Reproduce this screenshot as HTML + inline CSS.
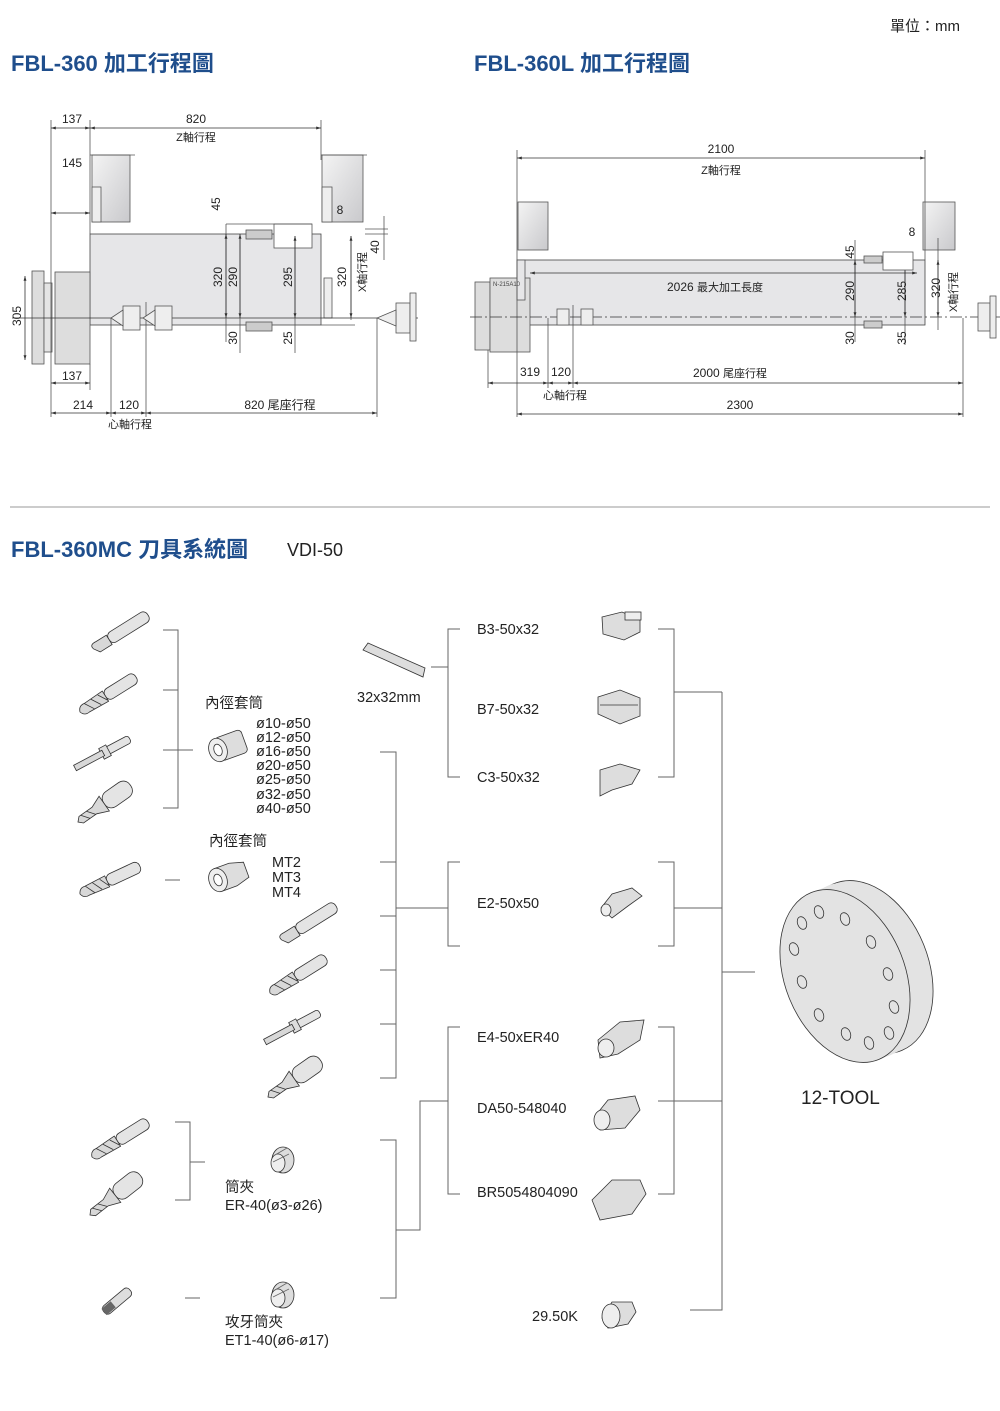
<!DOCTYPE html>
<html><head><meta charset="utf-8"><style>
html,body{margin:0;padding:0;background:#fff;}
svg{display:block;font-family:"Liberation Sans","Noto Sans CJK TC",sans-serif;}
</style></head><body>
<svg width="1000" height="1411" viewBox="0 0 1000 1411" xmlns="http://www.w3.org/2000/svg">
<defs>
<linearGradient id="gb" x1="0" x2="1" y1="0" y2="1"><stop offset="0" stop-color="#f4f4f4"/><stop offset="1" stop-color="#c9c9cc"/></linearGradient>
<marker id="ar" viewBox="0 0 10 10" refX="10" refY="5" markerWidth="6" markerHeight="6" orient="auto-start-reverse"><path d="M0,2 L10,5 L0,8z" fill="#333"/></marker>
<g id="drill"><rect x="30" y="-6" width="36" height="12" rx="5" fill="#e4e4e4" stroke="#333"/><path d="M0,0 Q2,-6 8,-5 L30,-6 L30,6 L8,5 Q2,6 0,0z" fill="#d8d8d8" stroke="#333"/><path d="M8,-5 L14,5 M16,-5 L22,5 M24,-5 L30,5" stroke="#333" fill="none"/></g>
<g id="bore"><rect x="20" y="-6" width="46" height="12" rx="5" fill="#e4e4e4" stroke="#333"/><path d="M2,0 Q0,-6 8,-5 L20,-5 L20,6 L6,6z" fill="#d8d8d8" stroke="#333"/></g>
<g id="mill"><rect x="32" y="-9" width="32" height="18" rx="8" fill="#e4e4e4" stroke="#333"/><path d="M0,0 L4,-4 L20,-4 L32,-9 L32,9 L20,4 L4,4z" fill="#d8d8d8" stroke="#333"/><path d="M6,-4 L12,4 M13,-4 L19,4" stroke="#333"/></g>
<g id="insd"><rect x="36" y="-4" width="26" height="8" rx="3" fill="#e4e4e4" stroke="#333"/><rect x="30" y="-6" width="8" height="12" fill="#ddd" stroke="#333"/><rect x="0" y="-3" width="32" height="6" fill="#d8d8d8" stroke="#333"/></g>
<g id="coll"><ellipse cx="0" cy="0" rx="11" ry="13" fill="#ddd" stroke="#333"/><ellipse cx="-5" cy="3" rx="7" ry="9" fill="#eee" stroke="#333"/><path d="M-8,-5 L4,-12 M-10,2 L6,-6" stroke="#666"/></g>
</defs>

<text x="890" y="31" font-size="15" fill="#222">單位：mm</text>
<g fill="#1f4e8c" font-weight="bold" font-size="22">
<text x="11" y="71">FBL-360 加工行程圖</text>
<text x="474" y="71">FBL-360L 加工行程圖</text>
<text x="11" y="557">FBL-360MC 刀具系統圖</text>
</g>
<text x="287" y="556" font-size="18" fill="#222">VDI-50</text>
<line x1="10" y1="507" x2="990" y2="507" stroke="#999"/>

<!-- LEFT DRAWING -->
<g stroke="#555" stroke-width="0.8" fill="none">
<rect x="90" y="234" width="231" height="91" fill="#e6e6e8" stroke="#444"/>
<rect x="92" y="155" width="38" height="67" fill="url(#gb)"/>
<rect x="92" y="187" width="9" height="35" fill="#eee"/>
<rect x="322" y="155" width="41" height="67" fill="url(#gb)"/>
<rect x="322" y="187" width="10" height="35" fill="#eee"/>
<rect x="324" y="278" width="8" height="40" fill="#eee"/>
<rect x="32" y="271" width="12" height="93" fill="#ddd"/>
<rect x="44" y="283" width="8" height="69" fill="#e4e4e4"/>
<rect x="55" y="272" width="35" height="92" fill="#ddd"/>
<rect x="274" y="224" width="38" height="24" fill="#fff"/>
<line x1="51" y1="120" x2="51" y2="417"/><line x1="90" y1="120" x2="90" y2="234"/>
<line x1="321" y1="120" x2="321" y2="160"/><line x1="90" y1="155" x2="135" y2="155"/><line x1="321" y1="155" x2="367" y2="155"/>
<line x1="90" y1="364" x2="90" y2="390"/>
<line x1="111" y1="318" x2="111" y2="417"/><line x1="146" y1="302" x2="146" y2="417"/><line x1="377" y1="318" x2="377" y2="417"/>
<line x1="12" y1="318" x2="418" y2="318" stroke="#333"/>
<line x1="226" y1="224" x2="226" y2="342"/><line x1="240" y1="239" x2="240" y2="353"/>
<line x1="295" y1="236" x2="295" y2="353"/><line x1="351" y1="236" x2="351" y2="320"/>
<line x1="384" y1="216" x2="384" y2="260"/>
<line x1="226" y1="224" x2="312" y2="224"/><line x1="321" y1="325" x2="355" y2="325"/><line x1="365" y1="234" x2="388" y2="234"/>
<line x1="365" y1="229" x2="388" y2="229"/>
<g stroke="#333" marker-start="url(#ar)" marker-end="url(#ar)">
<line x1="51" y1="128" x2="90" y2="128"/><line x1="90" y1="128" x2="321" y2="128"/>
<line x1="51" y1="213" x2="90" y2="213"/><line x1="51" y1="383" x2="90" y2="383"/>
<line x1="25" y1="276" x2="25" y2="360"/>
<line x1="51" y1="413" x2="111" y2="413"/><line x1="111" y1="413" x2="146" y2="413"/><line x1="146" y1="413" x2="377" y2="413"/>
<line x1="226" y1="234" x2="226" y2="318"/><line x1="240" y1="234" x2="240" y2="318"/>
<line x1="295" y1="236" x2="295" y2="318"/><line x1="351" y1="236" x2="351" y2="318"/>
</g>
<g fill="#eee"><rect x="123" y="306" width="17" height="24"/><rect x="155" y="306" width="17" height="24"/><rect x="396" y="303" width="14" height="30"/><rect x="410" y="293" width="6" height="48"/>
<path d="M111,318 L123,310 L123,326z"/><path d="M143,318 L155,310 L155,326z"/><path d="M377,318 L396,310 L396,326z"/></g>
<rect x="246" y="230" width="26" height="9" fill="#ccc"/><rect x="246" y="322" width="26" height="9" fill="#ccc"/>
</g>
<g font-size="12" fill="#222" text-anchor="middle">
<text x="72" y="123">137</text><text x="196" y="123">820</text><text x="196" y="141" font-size="11">Z軸行程</text>
<text x="72" y="167">145</text><text x="72" y="380">137</text>
<text x="83" y="409">214</text><text x="129" y="409">120</text><text x="280" y="409">820 尾座行程</text>
<text x="130" y="428" font-size="11">心軸行程</text>
<text x="340" y="214">8</text>
<text transform="translate(21,316) rotate(-90)">305</text>
<text transform="translate(220,204) rotate(-90)">45</text>
<text transform="translate(222,277) rotate(-90)">320</text>
<text transform="translate(237,277) rotate(-90)">290</text>
<text transform="translate(237,338) rotate(-90)">30</text>
<text transform="translate(292,277) rotate(-90)">295</text>
<text transform="translate(292,338) rotate(-90)">25</text>
<text transform="translate(346,277) rotate(-90)">320</text>
<text transform="translate(366,272) rotate(-90)" font-size="11">X軸行程</text>
<text transform="translate(379,247) rotate(-90)">40</text>
</g>

<!-- RIGHT DRAWING -->
<g stroke="#555" stroke-width="0.8" fill="none">
<rect x="517" y="260" width="408" height="65" fill="#e6e6e8" stroke="#444"/>
<rect x="518" y="202" width="30" height="48" fill="url(#gb)"/>
<rect x="923" y="202" width="32" height="48" fill="url(#gb)"/>
<rect x="475" y="282" width="15" height="68" fill="#ddd"/>
<rect x="490" y="278" width="40" height="74" fill="#ddd"/>
<rect x="517" y="260" width="8" height="40" fill="#e6e6e8"/>
<line x1="517" y1="150" x2="517" y2="417"/><line x1="925" y1="150" x2="925" y2="260"/>
<line x1="488" y1="350" x2="488" y2="388"/><line x1="548" y1="318" x2="548" y2="388"/><line x1="573" y1="305" x2="573" y2="388"/>
<line x1="963" y1="318" x2="963" y2="417"/>
<line x1="470" y1="317" x2="1000" y2="317" stroke="#333" stroke-dasharray="12,3,2,3"/>
<line x1="855" y1="240" x2="855" y2="342"/><line x1="905" y1="265" x2="905" y2="345"/><line x1="938" y1="238" x2="938" y2="330"/>
<g stroke="#333" marker-start="url(#ar)" marker-end="url(#ar)">
<line x1="517" y1="158" x2="925" y2="158"/><line x1="530" y1="273" x2="917" y2="273"/>
<line x1="488" y1="383" x2="548" y2="383"/><line x1="548" y1="383" x2="573" y2="383"/><line x1="573" y1="383" x2="963" y2="383"/>
<line x1="517" y1="414" x2="963" y2="414"/>
<line x1="855" y1="260" x2="855" y2="317"/><line x1="905" y1="265" x2="905" y2="317"/><line x1="938" y1="260" x2="938" y2="317"/>
</g>
<rect x="864" y="256" width="18" height="7" fill="#ccc"/><rect x="864" y="321" width="18" height="7" fill="#ccc"/>
<rect x="883" y="252" width="30" height="18" fill="#fff"/>
<g fill="#eee"><rect x="557" y="309" width="12" height="16"/><rect x="581" y="309" width="12" height="16"/><rect x="978" y="303" width="12" height="28"/><rect x="990" y="296" width="6" height="42"/></g>
</g>
<text x="493" y="286" font-size="6" fill="#444">N-215A10</text>
<g font-size="12" fill="#222" text-anchor="middle">
<text x="721" y="153">2100</text><text x="721" y="174" font-size="11">Z軸行程</text>
<text x="715" y="291">2026 <tspan font-size="11">最大加工長度</tspan></text>
<text x="530" y="376">319</text><text x="561" y="376">120</text><text x="730" y="377">2000 <tspan font-size="11">尾座行程</tspan></text>
<text x="565" y="399" font-size="11">心軸行程</text><text x="740" y="409">2300</text>
<text x="912" y="236">8</text>
<text transform="translate(854,252) rotate(-90)">45</text>
<text transform="translate(854,291) rotate(-90)">290</text>
<text transform="translate(854,338) rotate(-90)">30</text>
<text transform="translate(906,291) rotate(-90)">285</text>
<text transform="translate(906,338) rotate(-90)">35</text>
<text transform="translate(940,288) rotate(-90)">320</text>
<text transform="translate(957,292) rotate(-90)" font-size="11">X軸行程</text>
</g>

<!-- TOOL SYSTEM CONNECTORS -->
<g stroke="#666" fill="none" stroke-width="1">
<path d="M163,630 H178 V808 H163 M163,690 H178 M163,750 H193"/>
<path d="M165,880 H180"/>
<path d="M175,1122 H190 V1200 H175 M190,1162 H205"/>
<path d="M185,1298 H200"/>
<path d="M380,752 H396 V1078 H380 M380,862 H396 M380,916 H396 M380,970 H396 M380,1024 H396 M396,908 H448"/>
<path d="M380,1140 H396 V1298 H380 M396,1230 H420 V1101 H448"/>
<path d="M431,667 H448 M460,629 H448 V777 H460"/>
<path d="M460,862 H448 V946 H460"/>
<path d="M460,1027 H448 V1194 H460"/>
<path d="M658,629 H674 V777 H658 M674,692 H722"/>
<path d="M658,862 H674 V946 H658 M674,908 H722"/>
<path d="M658,1027 H674 V1194 H658 M658,1101 H722"/>
<path d="M722,692 V1310 H690 M722,972 H755"/>
</g>

<!-- tool icons -->
<g stroke-width="0.8">
<use href="#bore" transform="translate(92,650) rotate(-32)"/>
<use href="#drill" transform="translate(80,712) rotate(-32)"/>
<use href="#insd" transform="translate(75,768) rotate(-28)"/>
<use href="#mill" transform="translate(78,822) rotate(-35)"/>
<use href="#drill" transform="translate(80,894) rotate(-25)"/>
<use href="#bore" transform="translate(280,941) rotate(-32)"/>
<use href="#drill" transform="translate(270,993) rotate(-32)"/>
<use href="#insd" transform="translate(265,1042) rotate(-28)"/>
<use href="#mill" transform="translate(268,1097) rotate(-35)"/>
<use href="#drill" transform="translate(92,1157) rotate(-32)"/>
<use href="#mill" transform="translate(90,1215) rotate(-38)"/>
<g transform="translate(104,1312) rotate(-40)"><rect x="0" y="-5" width="34" height="10" rx="4" fill="#ddd" stroke="#333"/><rect x="0" y="-4" width="12" height="8" fill="#666"/></g>
<use href="#coll" transform="translate(283,1160)"/>
<use href="#coll" transform="translate(283,1295)"/>
<g transform="translate(218,750) rotate(-20)" stroke="#333"><rect x="0" y="-12" width="28" height="24" rx="4" fill="#ddd"/><ellipse cx="0" cy="0" rx="9" ry="12" fill="#eee"/><ellipse cx="0" cy="0" rx="4" ry="6" fill="#fff"/></g>
<g transform="translate(218,880) rotate(-20)" stroke="#333"><path d="M0,-12 H16 L30,-8 V8 L16,12 H0z" fill="#ddd"/><ellipse cx="0" cy="0" rx="9" ry="12" fill="#eee"/><ellipse cx="0" cy="0" rx="4" ry="6" fill="#fff"/></g>
<path d="M363,650 L368,643 L425,668 L423,677 Z" fill="#ddd" stroke="#333"/>
<g fill="#ddd" stroke="#333">
<path d="M602,617 L622,612 L640,620 L640,632 L624,640 L603,634Z"/><rect x="625" y="612" width="16" height="8" fill="#eee"/>
<path d="M598,697 L620,690 L640,698 L640,716 L620,724 L598,714Z"/><path d="M600,705 L638,705" fill="none"/>
<path d="M600,770 L620,764 L640,770 L632,784 L612,790 L600,796Z"/>
<path d="M601,908 L612,894 L632,888 L642,896 L628,906 L612,918Z"/><ellipse cx="606" cy="910" rx="5" ry="6" fill="#eee"/>
<path d="M598,1040 L620,1022 L644,1020 L640,1040 L618,1054 L600,1058Z"/><ellipse cx="606" cy="1048" rx="8" ry="9" fill="#eee"/>
<path d="M596,1115 L608,1100 L635,1096 L640,1110 L625,1128 L600,1130Z"/><ellipse cx="602" cy="1120" rx="8" ry="10" fill="#eee"/>
<path d="M592,1200 L612,1180 L640,1180 L646,1194 L632,1214 L600,1220Z"/>
<path d="M602,1318 L612,1302 L632,1302 L636,1312 L628,1324 L608,1328Z"/><ellipse cx="611" cy="1316" rx="9" ry="12" fill="#eee"/>
</g>
<!-- disc -->
<ellipse cx="868" cy="967" rx="60" ry="90" transform="rotate(-22 868 967)" fill="#e3e3e3" stroke="#333"/>
<g fill="#e3e3e3">
<ellipse cx="862" cy="969" rx="60" ry="90" transform="rotate(-22 862 969)"/>
<ellipse cx="856" cy="972" rx="60" ry="90" transform="rotate(-22 856 972)"/>
<ellipse cx="850" cy="974" rx="60" ry="90" transform="rotate(-22 850 974)"/>
</g>
<ellipse cx="845" cy="976" rx="60" ry="90" transform="rotate(-22 845 976)" fill="#e3e3e3" stroke="#333"/>
<g fill="none" stroke="#333">
<ellipse cx="802" cy="923" rx="4.5" ry="6.5" transform="rotate(-20 802 923)"/>
<ellipse cx="819" cy="912" rx="4.5" ry="6.5" transform="rotate(-20 819 912)"/>
<ellipse cx="845" cy="919" rx="4.5" ry="6.5" transform="rotate(-20 845 919)"/>
<ellipse cx="871" cy="942" rx="4.5" ry="6.5" transform="rotate(-20 871 942)"/>
<ellipse cx="888" cy="974" rx="4.5" ry="6.5" transform="rotate(-20 888 974)"/>
<ellipse cx="894" cy="1007" rx="4.5" ry="6.5" transform="rotate(-20 894 1007)"/>
<ellipse cx="889" cy="1033" rx="4.5" ry="6.5" transform="rotate(-20 889 1033)"/>
<ellipse cx="869" cy="1043" rx="4.5" ry="6.5" transform="rotate(-20 869 1043)"/>
<ellipse cx="846" cy="1034" rx="4.5" ry="6.5" transform="rotate(-20 846 1034)"/>
<ellipse cx="819" cy="1015" rx="4.5" ry="6.5" transform="rotate(-20 819 1015)"/>
<ellipse cx="802" cy="982" rx="4.5" ry="6.5" transform="rotate(-20 802 982)"/>
<ellipse cx="794" cy="949" rx="4.5" ry="6.5" transform="rotate(-20 794 949)"/>
</g>
</g>

<g font-size="14.5" fill="#222">
<text x="205" y="708">內徑套筒</text>
<text x="256" y="728">ø10-ø50</text><text x="256" y="742">ø12-ø50</text><text x="256" y="756">ø16-ø50</text>
<text x="256" y="770">ø20-ø50</text><text x="256" y="784">ø25-ø50</text><text x="256" y="799">ø32-ø50</text><text x="256" y="813">ø40-ø50</text>
<text x="209" y="846">內徑套筒</text>
<text x="272" y="867">MT2</text><text x="272" y="882">MT3</text><text x="272" y="897">MT4</text>
<text x="357" y="702">32x32mm</text>
<text x="477" y="634">B3-50x32</text><text x="477" y="714">B7-50x32</text><text x="477" y="782">C3-50x32</text>
<text x="477" y="908">E2-50x50</text><text x="477" y="1042">E4-50xER40</text><text x="477" y="1113">DA50-548040</text>
<text x="477" y="1197">BR5054804090</text><text x="532" y="1321">29.50K</text>
<text x="225" y="1192">筒夾</text><text x="225" y="1210">ER-40(ø3-ø26)</text>
<text x="225" y="1327">攻牙筒夾</text><text x="225" y="1345">ET1-40(ø6-ø17)</text>
<text x="801" y="1104" font-size="19">12-TOOL</text>
</g>
</svg>
</body></html>
